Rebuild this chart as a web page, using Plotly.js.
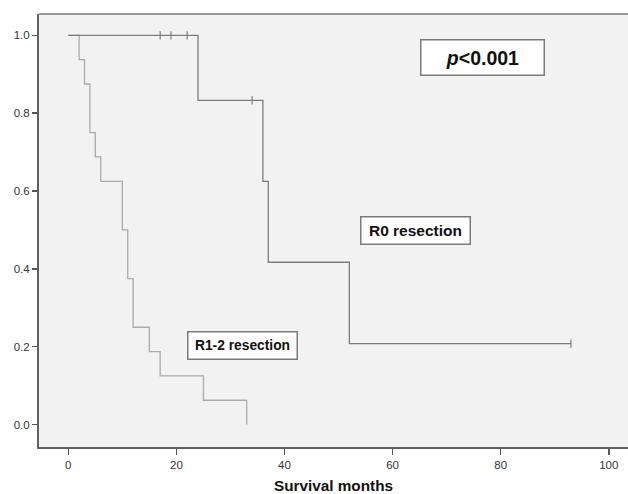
<!DOCTYPE html>
<html>
<head>
<meta charset="utf-8">
<script src="https://cdn.plot.ly/plotly-3.0.1.min.js"></script>
<style>html,body{margin:0;padding:0;background:#fff;}#chart{width:628px;height:494px;}</style>
</head>
<body>
<div id="chart"></div>
<script>
// R0 resection: event times (months) and Kaplan-Meier survival
const r0Times = [0, 24, 36, 37, 52, 93];
const r0Surv = [1.0, 0.833, 0.625, 0.417, 0.208, 0.208];
const r0CensorTimes = [17, 19, 22, 34, 93];
const r0CensorSurv = [1.0, 1.0, 1.0, 0.833, 0.208];

// R1-2 resection
const r12Times = [0, 2, 3, 4, 5, 6, 10, 11, 12, 15, 17, 25, 33];
const r12Surv = [1.0, 0.9375, 0.875, 0.75, 0.6875, 0.625, 0.5, 0.375, 0.25, 0.1875, 0.125, 0.0625, 0.0];

const xTicks = [0, 20, 40, 60, 80, 100];
const yTicks = [0.0, 0.2, 0.4, 0.6, 0.8, 1.0];
const yTickLabels = ["0.0", "0.2", "0.4", "0.6", "0.8", "1.0"];

const FONT = "Liberation Sans, Arial, sans-serif";
const c0 = "#7c7c7c";
const c12 = "#ababab";

const traces = [
  {x: r12Times, y: r12Surv, mode: "lines", line: {shape: "hv", color: c12, width: 1.3}, hoverinfo: "skip"},
  {x: r0Times, y: r0Surv, mode: "lines", line: {shape: "hv", color: c0, width: 1.3}, hoverinfo: "skip"},
  {x: r0CensorTimes, y: r0CensorSurv, mode: "markers",
   marker: {symbol: "line-ns", size: 6, line: {color: c0, width: 1.2}}, hoverinfo: "skip"}
];

const boxStyle = {showarrow: false, bgcolor: "#ffffff", bordercolor: "#7a7a7a", borderwidth: 1.5, borderpad: 0, xref: "x", yref: "y"};

const layout = {
  width: 628, height: 494,
  margin: {l: 39, r: 0, t: 14, b: 47},
  paper_bgcolor: "#ffffff",
  plot_bgcolor: "#f2f2f2",
  showlegend: false,
  font: {family: FONT, color: "#333333", size: 11},
  xaxis: {
    range: [-5.42, 103.55], tickvals: xTicks, ticks: "outside", ticklen: 6, tickwidth: 1.5, tickcolor: "#555",
    showgrid: false, zeroline: false, showline: true, linecolor: "#606060", linewidth: 2,
    tickfont: {size: 11.5, color: "#333"},
    title: {text: "<b>Survival months</b>", font: {size: 15.3, color: "#111"}, standoff: 16}
  },
  yaxis: {
    range: [-0.0576, 1.0548], tickvals: yTicks, ticktext: yTickLabels, ticks: "outside", ticklen: 5, tickwidth: 1.5, tickcolor: "#555",
    showgrid: false, zeroline: false, showline: true, linecolor: "#606060", linewidth: 2,
    tickfont: {size: 11.5, color: "#333"}
  },
  shapes: [
    {type: "line", xref: "paper", yref: "paper", x0: 0, x1: 1, y0: 1, y1: 1, line: {color: "#9a9a9a", width: 2}}
  ],
  annotations: [
    Object.assign({}, boxStyle, {x: 76.7, y: 0.944, text: "<b><i>p</i>&lt;0.001</b>", width: 122, height: 34, font: {size: 19.5, color: "#111", family: FONT}}),
    Object.assign({}, boxStyle, {x: 64.3, y: 0.4995, text: "<b>R0 resection</b>", width: 108, height: 26, font: {size: 15.5, color: "#111", family: FONT}}),
    Object.assign({}, boxStyle, {x: 32.2, y: 0.204, text: "<b>R1-2 resection</b>", width: 108, height: 26, font: {size: 13.8, color: "#111", family: FONT}})
  ]
};

Plotly.newPlot("chart", traces, layout, {displayModeBar: false, staticPlot: true});
</script>
</body>
</html>
